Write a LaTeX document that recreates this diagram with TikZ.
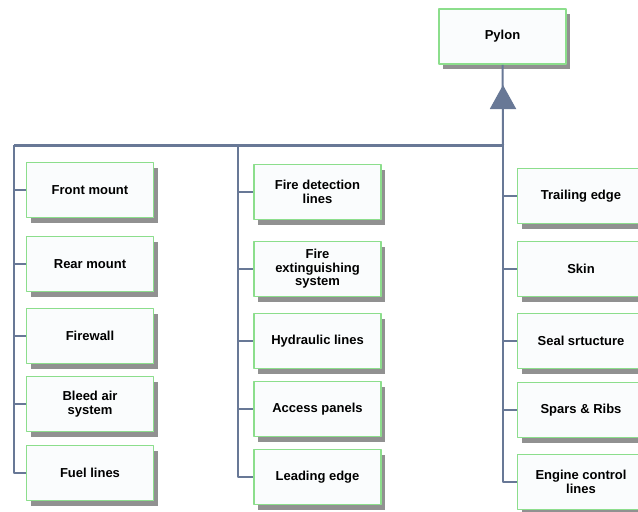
\documentclass[tikz,border=0pt]{standalone}
\usepackage{fontspec}
\setmainfont{Liberation Sans}
\usetikzlibrary{shadows,arrows.meta}
\definecolor{boxgreen}{RGB}{140,222,140}
\definecolor{boxfill}{RGB}{250,252,253}
\definecolor{busblue}{RGB}{104,120,150}
\definecolor{shadowgray}{RGB}{145,145,145}
\tikzset{
  part/.style={draw=boxgreen, line width=1.6pt, fill=boxfill, minimum width=127pt, minimum height=55pt,
    inner sep=0pt, align=center, font=\fontsize{13}{13.4}\selectfont\bfseries,
    drop shadow={shadow xshift=4pt, shadow yshift=-5pt, fill=shadowgray, opacity=1}},
  bus/.style={draw=busblue, line width=2pt},
}
\begin{document}
\begin{tikzpicture}[x=1pt, y=-1pt, line join=round]
	\useasboundingbox (0,0) rectangle (638,512);
	\clip (0,0) rectangle (638,512);
	% top of the tree
	\node[part] (pylon) at (502.5,36.5) {Pylon};
	\coordinate (hub) at (503,145);
	\coordinate (apex) at (503,85);
	\coordinate (lefttop) at (14,145);
	\coordinate (midtop) at (238,145);
	% left column
	\node[part] (front) at (90,190) {Front mount};
	\node[part] (rear) at (90,264) {Rear mount};
	\node[part] (firewall) at (90,336) {Firewall};
	\node[part] (bleed) at (90,404) {Bleed air\\system};
	\node[part] (fuel) at (90,473) {Fuel lines};
	% middle column
	\node[part] (detect) at (317.5,192) {Fire detection\\lines};
	\node[part] (extinguish) at (317.5,269) {Fire\\extinguishing\\system};
	\node[part] (hydraulic) at (317.5,341) {Hydraulic lines};
	\node[part] (access) at (317.5,409) {Access panels};
	\node[part] (leading) at (317.5,477) {Leading edge};
	% right column
	\node[part] (trailing) at (581,196) {Trailing edge};
	\node[part] (skin) at (581,269) {Skin};
	\node[part] (seal) at (581,341) {Seal srtucture};
	\node[part] (spars) at (581,410) {Spars \& Ribs};
	\node[part] (engine) at (581,482) {Engine control\\lines};
	% connectors
	\draw[bus] (pylon.south) -- (hub);
	\draw[bus, -{Triangle[width=26pt,length=24pt]}] (hub) -- (apex);
	\draw[bus, line width=3pt] (lefttop) -- (hub);
	\draw[bus] (lefttop) |- (fuel.west);
	\draw[bus] (midtop) |- (leading.west);
	\draw[bus] (hub) |- (engine.west);
	\foreach \n in {front,rear,firewall,bleed}
		\draw[bus] (\n.west -| lefttop) -- (\n.west);
	\foreach \n in {detect,extinguish,hydraulic,access}
		\draw[bus] (\n.west -| midtop) -- (\n.west);
	\foreach \n in {trailing,skin,seal,spars}
		\draw[bus] (\n.west -| hub) -- (\n.west);
\end{tikzpicture}
\end{document}
